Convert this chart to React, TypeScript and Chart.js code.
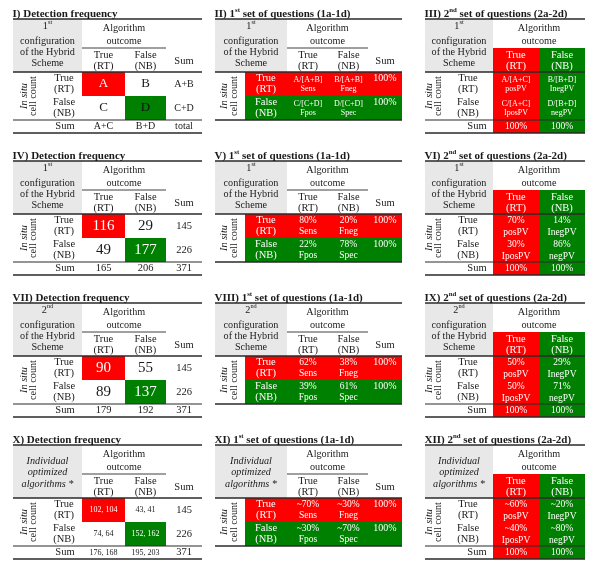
import React, { useEffect, useRef } from "react";
import { Chart, registerables } from "chart.js";

Chart.register(...registerables);

// ---------------- data ----------------
const panelTitles = [
  "I) Detection frequency",
  "II) 1{st} set of questions (1a-1d)",
  "III) 2{nd} set of questions (2a-2d)",
  "IV) Detection frequency",
  "V) 1{st} set of questions (1a-1d)",
  "VI) 2{nd} set of questions (2a-2d)",
  "VII) Detection frequency",
  "VIII) 1{st} set of questions (1a-1d)",
  "IX) 2{nd} set of questions (2a-2d)",
  "X) Detection frequency",
  "XI) 1{st} set of questions (1a-1d)",
  "XII) 2{nd} set of questions (2a-2d)",
];

const configLabels = [
  ["1{st}", "configuration", "of the Hybrid", "Scheme"],
  ["1{st}", "configuration", "of the Hybrid", "Scheme"],
  ["2{nd}", "configuration", "of the Hybrid", "Scheme"],
  ["Individual", "optimized", "algorithms *"],
];

const outcomeHeader = ["Algorithm", "outcome"];
const outcomeCategories = [
  ["True", "(RT)"],
  ["False", "(NB)"],
];
const countLabel = ["In situ", "cell count"];
const sumLabel = "Sum";

// Detection frequency: rows True/False/Sum, cols True/False/Sum
const freqCells = [
  [["A", "B", "A+B"], ["C", "D", "C+D"], ["A+C", "B+D", "total"]],
  [["116", "29", "145"], ["49", "177", "226"], ["165", "206", "371"]],
  [["90", "55", "145"], ["89", "137", "226"], ["179", "192", "371"]],
  [["102, 104", "43, 41", "145"], ["74, 64", "152, 162", "226"], ["176, 168", "195, 203", "371"]],
];

// 1st set of questions: [row][col] -> [value, name]
const sensCells = [
  [[["A/[A+B]", "Sens"], ["B/[A+B]", "Fneg"]], [["C/[C+D]", "Fpos"], ["D/[C+D]", "Spec"]]],
  [[["80%", "Sens"], ["20%", "Fneg"]], [["22%", "Fpos"], ["78%", "Spec"]]],
  [[["62%", "Sens"], ["38%", "Fneg"]], [["39%", "Fpos"], ["61%", "Spec"]]],
  [[["~70%", "Sens"], ["~30%", "Fneg"]], [["~30%", "Fpos"], ["~70%", "Spec"]]],
];
const sensRowSums = ["100%", "100%"];

// 2nd set of questions: [col][row] -> [value, name]
const pvCells = [
  [[["A/[A+C]", "posPV"], ["C/[A+C]", "IposPV"]], [["B/[B+D]", "InegPV"], ["D/[B+D]", "negPV"]]],
  [[["70%", "posPV"], ["30%", "IposPV"]], [["14%", "InegPV"], ["86%", "negPV"]]],
  [[["50%", "posPV"], ["50%", "IposPV"]], [["29%", "InegPV"], ["71%", "negPV"]]],
  [[["~60%", "posPV"], ["~40%", "IposPV"]], [["~20%", "InegPV"], ["~80%", "negPV"]]],
];
const pvColSums = ["100%", "100%"];

// ---------------- styles / layout ----------------
const W = 600;
const H = 571;
const FONT = '"Liberation Serif", "Times New Roman", Times, serif';
const RED = "#ff0000";
const GREEN = "#008000";
const GREY = "#e8e8e8";
const INK = "#1a1a1a";
const LINE = "#2a2a2a";
const WHITE = "#ffffff";

const configItalic = [false, false, false, true];
const configOffsets = [
  [7, 22, 33, 44],
  [7, 22, 33, 44],
  [7, 22, 33, 44],
  [16, 27.5, 39],
];
const freqValueSize = [13, 15, 15, 8];
const freqSumColSize = [10, 10.5, 10.5, 10.5];
const freqSumRowSize = [10, 10.5, 10.5, 8];
const greenInk = ["#111111", WHITE, WHITE, WHITE];
const sensSize = [8, 9.5, 9.5, 9.5];
const sensOffsets = [[8, 16.5], [6.5, 17.5], [6.5, 17.5], [6.5, 17.5]];
const pvSize = [8, 9.5, 9.5, 9.5];
const pvOffsets = [[7.5, 16.5], [6.5, 18], [6.5, 18], [6.5, 18]];

const panelTops = [19, 161, 303, 445];
const HEADER_H = 53;
const ROW_H = 24;
const SUM_H = 13;
const UNDER_Y = 29;

const layA = { left: 13, right: 202, grey: 82, cols: [82, 125, 166, 202], rowLabelX: 64, sumLabelX: 65, inSituX: 24.5, cellCountX: 33.5 };
const layB = { left: 215, right: 402, grey: 287, colorFrom: 245, cols: [287, 329, 368, 402], rowLabelX: 266, inSituX: 224.5, cellCountX: 234 };
const layC = { left: 425, right: 585, grey: 493, cols: [493, 539, 585], rowLabelX: 468, sumLabelX: 477, inSituX: 429.5, cellCountX: 438.5 };

// ---------------- drawing helpers ----------------
type Seg = { t: string; sup: boolean };
function parseRich(s: string): Seg[] {
  const segs: Seg[] = [];
  const re = /\{([^}]*)\}/g;
  let last = 0;
  let m: RegExpExecArray | null;
  while ((m = re.exec(s))) {
    if (m.index > last) segs.push({ t: s.slice(last, m.index), sup: false });
    segs.push({ t: m[1], sup: true });
    last = m.index + m[0].length;
  }
  if (last < s.length) segs.push({ t: s.slice(last), sup: false });
  return segs;
}

const tablePlugin = {
  id: "tables",
  afterDraw(chart: any) {
    const ctx: CanvasRenderingContext2D = chart.ctx;
    const xs = chart.scales.x;
    const ys = chart.scales.y;
    const X = (v: number) => xs.getPixelForValue(v);
    const Y = (v: number) => ys.getPixelForValue(v);

    const rect = (x0: number, y0: number, x1: number, y1: number, color: string) => {
      ctx.fillStyle = color;
      ctx.fillRect(X(x0), Y(y0), X(x1) - X(x0), Y(y1) - Y(y0));
    };
    const hline = (x0: number, x1: number, y: number, w: number) => {
      ctx.strokeStyle = LINE;
      ctx.lineWidth = w;
      ctx.beginPath();
      ctx.moveTo(X(x0), Y(y));
      ctx.lineTo(X(x1), Y(y));
      ctx.stroke();
    };
    const text = (
      s: string,
      x: number,
      y: number,
      size: number,
      o: { bold?: boolean; italic?: boolean; align?: string; color?: string } = {}
    ) => {
      const segs = parseRich(s);
      const style = (o.italic ? "italic " : "") + (o.bold ? "bold " : "");
      const fontFor = (sup: boolean) => `${style}${sup ? size * 0.62 : size}px ${FONT}`;
      let w = 0;
      for (const g of segs) {
        ctx.font = fontFor(g.sup);
        w += ctx.measureText(g.t).width;
      }
      const px = X(x);
      const py = Y(y);
      let sx = o.align === "left" ? px : o.align === "right" ? px - w : px - w / 2;
      ctx.fillStyle = o.color || INK;
      ctx.textBaseline = "middle";
      ctx.textAlign = "left";
      for (const g of segs) {
        ctx.font = fontFor(g.sup);
        ctx.fillText(g.t, sx, g.sup ? py - size * 0.32 : py);
        sx += ctx.measureText(g.t).width;
      }
    };
    const vtext = (s: string, x: number, y: number, size: number, italic: boolean) => {
      ctx.save();
      ctx.translate(X(x), Y(y));
      ctx.rotate(-Math.PI / 2);
      ctx.font = `${italic ? "italic " : ""}${size}px ${FONT}`;
      ctx.fillStyle = INK;
      ctx.textAlign = "center";
      ctx.textBaseline = "middle";
      ctx.fillText(s, 0, 0);
      ctx.restore();
    };
    const mid = (a: number, b: number) => (a + b) / 2;

    const header = (r: number, lay: any, cats: number[], catColor: string, outcomeX: number) => {
      const y0 = panelTops[r];
      const gx = mid(lay.left, lay.grey);
      configLabels[r].forEach((l, i) => {
        text(l, gx, y0 + configOffsets[r][i], 10.2, { italic: configItalic[r] });
      });
      text(outcomeHeader[0], outcomeX, y0 + 9, 10.2);
      text(outcomeHeader[1], outcomeX, y0 + 22, 10.2);
      outcomeCategories.forEach((c, j) => {
        text(c[0], cats[j], y0 + 36, 10.5, { color: catColor });
        text(c[1], cats[j], y0 + 47.5, 10.5, { color: catColor });
      });
    };
    const rowLabels = (r: number, lay: any, color: string) => {
      const yH = panelTops[r] + HEADER_H;
      outcomeCategories.forEach((c, i) => {
        text(c[0], lay.rowLabelX, yH + i * ROW_H + 6.5, 10.5, { color });
        text(c[1], lay.rowLabelX, yH + i * ROW_H + 17.5, 10.5, { color });
      });
      const cy = yH + ROW_H;
      vtext(countLabel[0], lay.inSituX, cy, 10.2, true);
      vtext(countLabel[1], lay.cellCountX, cy, 10.2, false);
    };

    for (let r = 0; r < 4; r++) {
      const y0 = panelTops[r];
      const yH = y0 + HEADER_H;
      const yS = yH + 2 * ROW_H;
      const yB = yS + SUM_H;

      // ---- Panel A: detection frequency ----
      {
        const L = layA;
        const c = L.cols;
        rect(L.left, y0, L.grey, yH, GREY);
        rect(c[0], yH, c[1], yH + ROW_H, RED);
        rect(c[1], yH + ROW_H, c[2], yS, GREEN);
        hline(L.left, L.right, y0, 1.3);
        hline(c[0], c[2], y0 + UNDER_Y, 0.9);
        hline(L.left, L.right, yH, 1.6);
        hline(L.left, L.right, yS, 1.1);
        hline(L.left, L.right, yB, 1.3);
        text(panelTitles[r * 3], L.left - 0.5, y0 - 5, 11, { bold: true, align: "left" });
        header(r, L, [mid(c[0], c[1]), mid(c[1], c[2])], INK, mid(c[0], c[2]));
        text(sumLabel, mid(c[2], c[3]), y0 + 42, 10.5);
        rowLabels(r, L, INK);
        const cells = freqCells[r];
        for (let i = 0; i < 2; i++) {
          for (let j = 0; j < 3; j++) {
            const cx = mid(c[j], c[j + 1]);
            const cy = yH + i * ROW_H + ROW_H / 2;
            let color = INK;
            if (i === 0 && j === 0) color = WHITE;
            if (i === 1 && j === 1) color = greenInk[r];
            const size = j === 2 ? freqSumColSize[r] : freqValueSize[r];
            text(cells[i][j], cx, cy, size, { color });
          }
        }
        text(sumLabel, L.sumLabelX, yS + SUM_H / 2, 10.5);
        for (let j = 0; j < 3; j++) {
          const size = j === 2 ? freqSumColSize[r] : freqSumRowSize[r];
          text(cells[2][j], mid(c[j], c[j + 1]), yS + SUM_H / 2, size);
        }
      }

      // ---- Panel B: 1st set of questions ----
      {
        const L = layB;
        const c = L.cols;
        rect(L.left, y0, L.grey, yH, GREY);
        rect(L.colorFrom, yH, L.right, yH + ROW_H, RED);
        rect(L.colorFrom, yH + ROW_H, L.right, yS, GREEN);
        hline(L.left, L.right, y0, 1.3);
        hline(c[0], c[2], y0 + UNDER_Y, 0.9);
        hline(L.left, L.right, yH, 1.6);
        hline(L.left, L.right, yS, 1.3);
        text(panelTitles[r * 3 + 1], L.left - 0.5, y0 - 5, 11, { bold: true, align: "left" });
        header(r, L, [mid(c[0], c[1]), mid(c[1], c[2])], INK, mid(c[0], c[2]));
        text(sumLabel, mid(c[2], c[3]), y0 + 42.5, 10.5);
        rowLabels(r, L, WHITE);
        for (let i = 0; i < 2; i++) {
          const top = yH + i * ROW_H;
          for (let j = 0; j < 2; j++) {
            const cell = sensCells[r][i][j];
            const cx = mid(c[j], c[j + 1]);
            text(cell[0], cx, top + sensOffsets[r][0], sensSize[r], { color: WHITE });
            text(cell[1], cx, top + sensOffsets[r][1], sensSize[r], { color: WHITE });
          }
          text(sensRowSums[i], mid(c[2], c[3]), top + 6.5, 10, { color: WHITE });
        }
      }

      // ---- Panel C: 2nd set of questions ----
      {
        const L = layC;
        const c = L.cols;
        rect(L.left, y0, L.grey, yH, GREY);
        rect(c[0], y0 + UNDER_Y, c[1], yB, RED);
        rect(c[1], y0 + UNDER_Y, c[2], yB, GREEN);
        hline(L.left, L.right, y0, 1.3);
        hline(L.left, L.right, yH, 1.6);
        hline(L.left, L.right, yS, 1.1);
        hline(L.left, L.right, yB, 1.3);
        text(panelTitles[r * 3 + 2], L.left - 0.5, y0 - 5, 11, { bold: true, align: "left" });
        header(r, L, [mid(c[0], c[1]), mid(c[1], c[2])], WHITE, c[1]);
        rowLabels(r, L, INK);
        for (let j = 0; j < 2; j++) {
          const cx = mid(c[j], c[j + 1]);
          for (let i = 0; i < 2; i++) {
            const cell = pvCells[r][j][i];
            const top = yH + i * ROW_H;
            text(cell[0], cx, top + pvOffsets[r][0], pvSize[r], { color: WHITE });
            text(cell[1], cx, top + pvOffsets[r][1], pvSize[r], { color: WHITE });
          }
          text(pvColSums[j], cx, yS + SUM_H / 2, 9.5, { color: WHITE });
        }
        text(sumLabel, L.sumLabelX, yS + SUM_H / 2, 10.5);
      }
    }
  },
};

export default function App() {
  const ref = useRef<HTMLCanvasElement | null>(null);
  useEffect(() => {
    if (!ref.current) return;
    const chart = new Chart(ref.current, {
      type: "scatter",
      data: { datasets: [{ data: [], pointRadius: 0 }] },
      options: {
        animation: false,
        responsive: false,
        maintainAspectRatio: false,
        layout: { padding: 0 },
        events: [],
        plugins: { legend: { display: false }, tooltip: { enabled: false } },
        scales: {
          x: { type: "linear", min: 0, max: W, display: false },
          y: { type: "linear", min: 0, max: H, reverse: true, display: false },
        },
      },
      plugins: [tablePlugin as any],
    } as any);
    return () => chart.destroy();
  }, []);
  return (
    <div style={{ position: "absolute", left: 0, top: 0, width: W, height: H, background: "#fff" }}>
      <canvas ref={ref} width={W} height={H} style={{ display: "block", width: W, height: H }} />
    </div>
  );
}
